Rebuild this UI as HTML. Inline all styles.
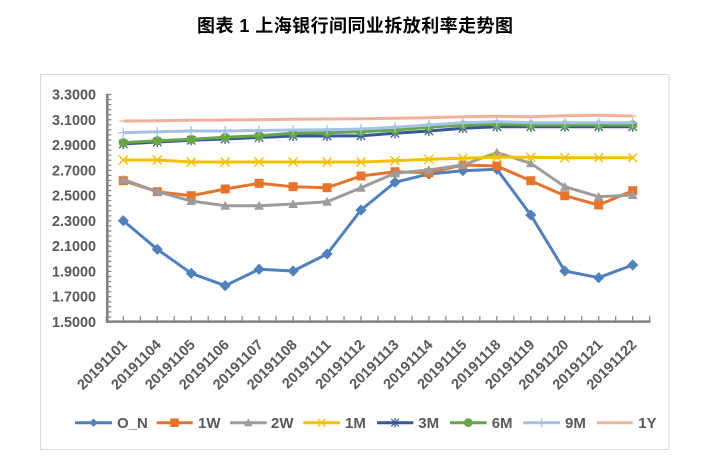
<!DOCTYPE html>
<html><head><meta charset="utf-8"><style>
html,body{margin:0;padding:0;background:#fff;}
svg{display:block;}
</style></head><body>
<svg width="701" height="471" viewBox="0 0 701 471" xmlns="http://www.w3.org/2000/svg" font-family="'Liberation Sans','Noto Sans CJK SC',sans-serif">
<defs>
<marker id="mD" markerUnits="userSpaceOnUse" markerWidth="12" markerHeight="12" refX="6" refY="6" viewBox="0 0 12 12" overflow="visible"><path d="M6 1L11 6L6 11L1 6Z" fill="#4f81bd" stroke="#4f81bd" stroke-width="0.8"/></marker>
<marker id="mS" markerUnits="userSpaceOnUse" markerWidth="12" markerHeight="12" refX="6" refY="6" viewBox="0 0 12 12" overflow="visible"><rect x="1.5" y="1.5" width="9" height="9" fill="#e8742c"/></marker>
<marker id="mT" markerUnits="userSpaceOnUse" markerWidth="12" markerHeight="12" refX="6" refY="6" viewBox="0 0 12 12" overflow="visible"><path d="M6 1.2L10.8 10L1.2 10Z" fill="#9c9c9c"/></marker>
<marker id="mX" markerUnits="userSpaceOnUse" markerWidth="12" markerHeight="12" refX="6" refY="6" viewBox="0 0 12 12" overflow="visible"><path d="M1.5 1.5L10.5 10.5M10.5 1.5L1.5 10.5" stroke="#f5c000" stroke-width="1.4" fill="none"/></marker>
<marker id="mA" markerUnits="userSpaceOnUse" markerWidth="12" markerHeight="12" refX="6" refY="6" viewBox="0 0 12 12" overflow="visible"><path d="M1.8 1.8L10.2 10.2M10.2 1.8L1.8 10.2M6 1L6 11" stroke="#34589a" stroke-width="1.3" fill="none"/></marker>
<marker id="mC" markerUnits="userSpaceOnUse" markerWidth="12" markerHeight="12" refX="6" refY="6" viewBox="0 0 12 12" overflow="visible"><circle cx="6" cy="6" r="4.6" fill="#68a545"/></marker>
<marker id="mP" markerUnits="userSpaceOnUse" markerWidth="12" markerHeight="12" refX="6" refY="6" viewBox="0 0 12 12" overflow="visible"><path d="M6 1L6 11M1 6L11 6" stroke="#a4c2e6" stroke-width="1.3" fill="none"/></marker>
<marker id="mM" markerUnits="userSpaceOnUse" markerWidth="12" markerHeight="12" refX="6" refY="6" viewBox="0 0 12 12" overflow="visible"><path d="M2 6L10 6" stroke="#f0b19c" stroke-width="1.3" fill="none"/></marker>
</defs>
<rect x="0" y="0" width="701" height="471" fill="#fff"/>
<!-- title -->
<text x="197" y="32" font-size="18" font-weight="bold" fill="#000" textLength="316" lengthAdjust="spacing">图表 1 上海银行间同业拆放利率走势图</text>
<!-- frame -->
<rect x="40.5" y="74.5" width="628.5" height="375" fill="none" stroke="#d9d9d9" stroke-width="1"/>
<!-- y labels -->
<g font-size="14.4" font-weight="bold" fill="#595959" text-anchor="end">
<text x="96" y="99.5">3.3000</text>
<text x="96" y="124.8">3.1000</text>
<text x="96" y="150.1">2.9000</text>
<text x="96" y="175.3">2.7000</text>
<text x="96" y="200.6">2.5000</text>
<text x="96" y="225.9">2.3000</text>
<text x="96" y="251.2">2.1000</text>
<text x="96" y="276.5">1.9000</text>
<text x="96" y="301.7">1.7000</text>
<text x="96" y="327">1.5000</text>
</g>
<!-- axes -->
<line x1="107.3" y1="93.9" x2="107.3" y2="322.8" stroke="#808080" stroke-width="2.5"/>
<line x1="109.3" y1="93.9" x2="109.3" y2="322.8" stroke="#808080" stroke-width="4" stroke-dasharray="1.2 3.856"/>
<line x1="106" y1="321.6" x2="650.5" y2="321.6" stroke="#808080" stroke-width="2.5"/>
<line x1="105.7" y1="318.6" x2="651" y2="318.6" stroke="#808080" stroke-width="5" stroke-dasharray="1.2 15.78"/>
<!-- x labels -->
<g font-size="14.5" font-weight="bold" fill="#595959" text-anchor="end">
<text transform="translate(128,345.5) rotate(-45)">20191101</text>
<text transform="translate(162,345.5) rotate(-45)">20191104</text>
<text transform="translate(195.9,345.5) rotate(-45)">20191105</text>
<text transform="translate(229.9,345.5) rotate(-45)">20191106</text>
<text transform="translate(263.8,345.5) rotate(-45)">20191107</text>
<text transform="translate(297.8,345.5) rotate(-45)">20191108</text>
<text transform="translate(331.8,345.5) rotate(-45)">20191111</text>
<text transform="translate(365.7,345.5) rotate(-45)">20191112</text>
<text transform="translate(399.7,345.5) rotate(-45)">20191113</text>
<text transform="translate(433.6,345.5) rotate(-45)">20191114</text>
<text transform="translate(467.6,345.5) rotate(-45)">20191115</text>
<text transform="translate(501.6,345.5) rotate(-45)">20191118</text>
<text transform="translate(535.5,345.5) rotate(-45)">20191119</text>
<text transform="translate(569.5,345.5) rotate(-45)">20191120</text>
<text transform="translate(603.4,345.5) rotate(-45)">20191121</text>
<text transform="translate(637.4,345.5) rotate(-45)">20191122</text>
</g>
<!-- series -->
<g fill="none" stroke-width="3" stroke-linejoin="round">
<polyline stroke="#4f81bd" marker-start="url(#mD)" marker-mid="url(#mD)" marker-end="url(#mD)" points="123.3,220.7 157.3,249.3 191.2,273.3 225.2,285.7 259.1,269.3 293.1,271 327.1,254 361,210 395,182.3 428.9,174 462.9,170.7 496.9,169.3 530.8,215 564.8,271 598.7,277.7 632.7,265"/>
<polyline stroke="#e8742c" marker-start="url(#mS)" marker-mid="url(#mS)" marker-end="url(#mS)" points="123.3,180.7 157.3,191.7 191.2,195.7 225.2,189 259.1,183.3 293.1,186.7 327.1,187.7 361,176 395,171.7 428.9,172.7 462.9,165 496.9,166 530.8,180.7 564.8,195.7 598.7,205 632.7,190.7"/>
<polyline stroke="#9c9c9c" marker-start="url(#mT)" marker-mid="url(#mT)" marker-end="url(#mT)" points="123.3,179.5 157.3,191.7 191.2,201 225.2,205.7 259.1,205.7 293.1,204 327.1,201.7 361,187.7 395,173.3 428.9,170 462.9,165 496.9,152.5 530.8,163.3 564.8,186.7 598.7,196.7 632.7,195"/>
<polyline stroke="#f5c000" marker-start="url(#mX)" marker-mid="url(#mX)" marker-end="url(#mX)" points="123.3,160 157.3,160 191.2,162 225.2,162 259.1,162 293.1,162 327.1,162 361,162 395,160.7 428.9,159.3 462.9,158.3 496.9,157.3 530.8,157.3 564.8,157.7 598.7,157.7 632.7,157.7"/>
<polyline stroke="#34589a" marker-start="url(#mA)" marker-mid="url(#mA)" marker-end="url(#mA)" points="123.3,144 157.3,142 191.2,140.3 225.2,139 259.1,137.5 293.1,136 327.1,136 361,135.7 395,133.3 428.9,131 462.9,128.3 496.9,126.7 530.8,126.7 564.8,126.7 598.7,126.7 632.7,126.7"/>
<polyline stroke="#68a545" marker-start="url(#mC)" marker-mid="url(#mC)" marker-end="url(#mC)" points="123.3,142.7 157.3,140.7 191.2,139.3 225.2,137.3 259.1,135.7 293.1,133.3 327.1,132.7 361,131.7 395,130 428.9,127.3 462.9,125 496.9,124.3 530.8,125 564.8,125 598.7,125 632.7,125"/>
<polyline stroke="#a4c2e6" marker-start="url(#mP)" marker-mid="url(#mP)" marker-end="url(#mP)" points="123.3,132.7 157.3,131.7 191.2,131 225.2,131 259.1,130.5 293.1,130 327.1,129.7 361,129 395,127.3 428.9,125 462.9,122.7 496.9,121.7 530.8,122.7 564.8,122.7 598.7,122.7 632.7,122.7"/>
<polyline stroke="#f0b19c" marker-start="url(#mM)" marker-mid="url(#mM)" marker-end="url(#mM)" points="123.3,121 157.3,120.7 191.2,120.3 225.2,120 259.1,119.7 293.1,119.3 327.1,119 361,118.7 395,118.3 428.9,117.7 462.9,116.7 496.9,116.3 530.8,116.7 564.8,115.7 598.7,115.3 632.7,116"/>
</g>
<!-- legend -->
<g stroke-width="3" fill="none">
<line x1="75" y1="422.7" x2="112" y2="422.7" stroke="#4f81bd"/>
<line x1="156.7" y1="422.7" x2="192.7" y2="422.7" stroke="#e8742c"/>
<line x1="230" y1="422.7" x2="266.7" y2="422.7" stroke="#9c9c9c"/>
<line x1="303.3" y1="422.7" x2="340" y2="422.7" stroke="#f5c000"/>
<line x1="377" y1="422.7" x2="413.3" y2="422.7" stroke="#34589a"/>
<line x1="450" y1="422.7" x2="486.7" y2="422.7" stroke="#68a545"/>
<line x1="523.3" y1="422.7" x2="560" y2="422.7" stroke="#a4c2e6"/>
<line x1="596.7" y1="422.7" x2="632.7" y2="422.7" stroke="#f0b19c"/>
</g>
<path d="M93.5 418.5L97.7 422.7L93.5 426.9L89.3 422.7Z" fill="#4f81bd"/>
<rect x="170.2" y="418.4" width="8.6" height="8.6" fill="#e8742c"/>
<path d="M248.3 418.3L252.6 426.3L244 426.3Z" fill="#9c9c9c"/>
<path d="M317.8 418.8L325.6 426.6M325.6 418.8L317.8 426.6" stroke="#f5c000" stroke-width="1.3"/>
<path d="M391.2 418.9L398.8 426.5M398.8 418.9L391.2 426.5M395 418L395 427.4" stroke="#34589a" stroke-width="1.2"/>
<circle cx="468.3" cy="422.7" r="4.4" fill="#68a545"/>
<path d="M541.7 418L541.7 427.4" stroke="#a4c2e6" stroke-width="1.3"/>
<g font-size="15" font-weight="bold" fill="#595959">
<text x="117" y="428">O_N</text>
<text x="198" y="428">1W</text>
<text x="271" y="428">2W</text>
<text x="345" y="428">1M</text>
<text x="418.3" y="428">3M</text>
<text x="491.7" y="428">6M</text>
<text x="565" y="428">9M</text>
<text x="638.3" y="428">1Y</text>
</g>
</svg>
</body></html>
